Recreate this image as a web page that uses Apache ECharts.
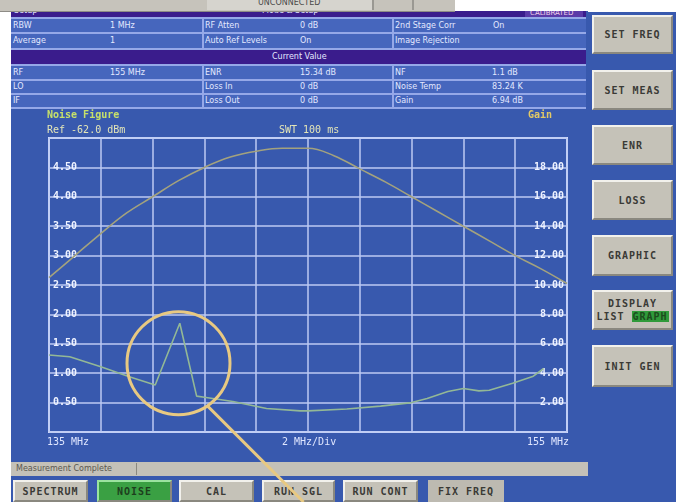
<!DOCTYPE html>
<html>
<head>
<meta charset="utf-8">
<script src="https://cdn.jsdelivr.net/npm/echarts@6/dist/echarts.min.js"></script>
<style>
  html,body{margin:0;padding:0;background:#ffffff;}
  #wrap{position:relative;width:680px;height:502px;overflow:hidden;background:#ffffff;font-family:"DejaVu Sans",sans-serif;}
  .abs{position:absolute;}
  .blue{background:#3859ae;}
  .row{position:absolute;left:11px;width:575px;background:#4666bd;}
  .sep{position:absolute;left:11px;width:575px;background:#95a8e8;}
  .purple{position:absolute;left:11px;width:575px;background:#3a1c8c;}
  .t{position:absolute;font-size:8px;color:#e4e9ff;white-space:nowrap;}
  .vsep{position:absolute;width:2px;background:#95a8e8;}
  .btn{position:absolute;background:#c5c2b8;border-top:2px solid #f2f1ec;border-left:2px solid #f2f1ec;border-bottom:2px solid #8a887f;border-right:2px solid #8a887f;box-sizing:border-box;
       font-family:"DejaVu Sans Mono",monospace;font-weight:bold;font-size:10px;color:#3a3a36;display:flex;align-items:center;justify-content:center;letter-spacing:1px;}
  #chart{position:absolute;left:0;top:0;width:680px;height:502px;pointer-events:none;}
</style>
</head>
<body>
<div id="wrap">
  <!-- main panels -->
  <div class="abs blue" style="left:11px;top:11px;width:577px;height:451px;"></div>
  <div class="abs blue" style="left:588px;top:12px;width:88px;height:490px;"></div>
  <div class="abs blue" style="left:11px;top:476px;width:577px;height:26px;"></div>

  <!-- table header (cut off at top) -->
  <div class="abs" style="left:11px;top:11px;width:575px;height:6px;overflow:hidden;background:#3a1c8c;">
    <div class="t" style="left:3px;top:-5px;">Setup</div>
    <div class="t" style="left:251px;top:-5px;">Mode &amp; Setup</div>
    <div class="abs" style="left:514px;top:0;width:58px;height:6px;background:#5a3aa8;"></div>
    <div class="t" style="left:519px;top:-2px;font-size:7px;color:#f0d0e8;">CALIBRATED</div>
  </div>

  <div class="sep" style="top:17px;height:2px;"></div>
  <div class="row" style="top:19px;height:13px;"></div>
  <div class="sep" style="top:32px;height:2px;"></div>
  <div class="row" style="top:34px;height:14px;"></div>
  <div class="sep" style="top:48px;height:2px;"></div>
  <div class="purple" style="top:50px;height:14px;"></div>
  <div class="sep" style="top:64px;height:2px;"></div>
  <div class="row" style="top:66px;height:13px;"></div>
  <div class="sep" style="top:79px;height:2px;"></div>
  <div class="row" style="top:81px;height:12px;"></div>
  <div class="sep" style="top:93px;height:2px;"></div>
  <div class="row" style="top:95px;height:12px;"></div>
  <div class="sep" style="top:107px;height:2px;"></div>
  <div class="vsep" style="left:202px;top:19px;height:29px;"></div>
  <div class="vsep" style="left:392px;top:19px;height:29px;"></div>
  <div class="vsep" style="left:202px;top:66px;height:41px;"></div>
  <div class="vsep" style="left:392px;top:66px;height:41px;"></div>

  <div class="t" style="left:13px;top:21px;">RBW</div>
  <div class="t" style="left:110px;top:21px;">1 MHz</div>
  <div class="t" style="left:205px;top:21px;">RF Atten</div>
  <div class="t" style="left:300px;top:21px;">0 dB</div>
  <div class="t" style="left:395px;top:21px;">2nd Stage Corr</div>
  <div class="t" style="left:493px;top:21px;">On</div>

  <div class="t" style="left:13px;top:36px;">Average</div>
  <div class="t" style="left:110px;top:36px;">1</div>
  <div class="t" style="left:205px;top:36px;">Auto Ref Levels</div>
  <div class="t" style="left:300px;top:36px;">On</div>
  <div class="t" style="left:395px;top:36px;">Image Rejection</div>

  <div class="t" style="left:272px;top:52px;">Current Value</div>

  <div class="t" style="left:13px;top:68px;">RF</div>
  <div class="t" style="left:110px;top:68px;">155 MHz</div>
  <div class="t" style="left:205px;top:68px;">ENR</div>
  <div class="t" style="left:300px;top:68px;">15.34 dB</div>
  <div class="t" style="left:395px;top:68px;">NF</div>
  <div class="t" style="left:492px;top:68px;">1.1 dB</div>

  <div class="t" style="left:13px;top:82px;">LO</div>
  <div class="t" style="left:205px;top:82px;">Loss In</div>
  <div class="t" style="left:300px;top:82px;">0 dB</div>
  <div class="t" style="left:395px;top:82px;">Noise Temp</div>
  <div class="t" style="left:492px;top:82px;">83.24 K</div>

  <div class="t" style="left:13px;top:96px;">IF</div>
  <div class="t" style="left:205px;top:96px;">Loss Out</div>
  <div class="t" style="left:300px;top:96px;">0 dB</div>
  <div class="t" style="left:395px;top:96px;">Gain</div>
  <div class="t" style="left:492px;top:96px;">6.94 dB</div>

  <!-- top gray bar -->
  <div class="abs" style="left:0;top:0;width:455px;height:11px;background:#c6c3bb;border-bottom:1px solid #8e8c86;"></div>
  <div class="abs" style="left:207px;top:0;width:165px;height:10px;background:#d6d4ce;"></div>
  <div class="abs" style="left:258px;top:-2px;font-size:8px;color:#4a4a4a;white-space:nowrap;">UNCONNECTED</div>
  <div class="abs" style="left:372px;top:0;width:2px;height:10px;background:#9a9892;"></div>
  <div class="abs" style="left:412px;top:0;width:2px;height:10px;background:#9a9892;"></div>

  <!-- status bar -->
  <div class="abs" style="left:11px;top:462px;width:577px;height:14px;background:#c4c1b8;"></div>
  <div class="abs" style="left:16px;top:464px;font-size:8px;color:#5a5850;white-space:nowrap;">Measurement Complete</div>
  <div class="abs" style="left:136px;top:463px;width:1px;height:12px;background:#8a8880;"></div>

  <!-- right buttons -->
  <div class="btn" style="left:592px;top:15px;width:81px;height:39px;">SET FREQ</div>
  <div class="btn" style="left:592px;top:70px;width:81px;height:40px;">SET MEAS</div>
  <div class="btn" style="left:592px;top:125px;width:81px;height:40px;">ENR</div>
  <div class="btn" style="left:592px;top:180px;width:81px;height:40px;">LOSS</div>
  <div class="btn" style="left:592px;top:235px;width:81px;height:41px;">GRAPHIC</div>
  <div class="btn" style="left:592px;top:290px;width:81px;height:40px;flex-direction:column;">
    <div style="margin-bottom:2px;">DISPLAY</div>
    <div style="display:flex;align-items:center;"><span>LIST&nbsp;</span><span style="background:#2f9a3a;color:#1d4a1d;padding:0 1px;">GRAPH</span></div>
  </div>
  <div class="btn" style="left:592px;top:345px;width:81px;height:42px;">INIT GEN</div>

  <!-- bottom buttons -->
  <div class="btn" style="left:13px;top:480px;width:75px;height:22px;">SPECTRUM</div>
  <div class="btn" style="left:97px;top:480px;width:75px;height:22px;background:#3aa043;color:#1d3f1d;border-top-color:#9be39f;border-left-color:#9be39f;">NOISE</div>
  <div class="btn" style="left:179px;top:480px;width:75px;height:22px;">CAL</div>
  <div class="btn" style="left:262px;top:480px;width:73px;height:22px;">RUN SGL</div>
  <div class="btn" style="left:343px;top:480px;width:75px;height:22px;">RUN CONT</div>
  <div class="btn" style="left:428px;top:480px;width:76px;height:22px;background:#bdbab1;border-color:#bdbab1;">FIX FREQ</div>

  <div id="chart"></div>
</div>
<script>
// ---------- data ----------
var nfFreq   = [135.0, 135.8, 137.0, 138.1, 139.1, 140.05, 140.7, 141.0, 142.1, 143.4, 144.7, 145.0, 146.5, 147.8, 149.0, 149.6, 150.4, 151.0, 151.6, 152.0, 152.9, 153.7, 154.1];
var nfValues = [1.31, 1.28, 1.11, 0.94, 0.80, 1.85, 0.61, 0.59, 0.52, 0.40, 0.36, 0.36, 0.39, 0.44, 0.50, 0.57, 0.69, 0.74, 0.70, 0.71, 0.83, 0.95, 1.08];
var gainFreq   = [135, 136, 137, 138, 139, 140, 141, 142, 143, 144, 145, 146, 147, 148, 149, 150, 151, 152, 153, 154, 155];
var gainValues = [10.5, 12.0, 13.5, 14.9, 16.0, 17.1, 18.0, 18.7, 19.1, 19.3, 19.3, 18.8, 17.9, 17.0, 16.0, 15.0, 14.0, 13.0, 12.0, 11.1, 10.1];
var nfTicks   = [0.5, 1.0, 1.5, 2.0, 2.5, 3.0, 3.5, 4.0, 4.5];
var gainTicks = [2, 4, 6, 8, 10, 12, 14, 16, 18];
var highlightPoint = [140.0, 1.17];

function pairs(xs, ys){ return xs.map(function(x,i){ return [x, ys[i]]; }); }

var mono = '"DejaVu Sans Mono", monospace';
var chart = echarts.init(document.getElementById('chart'), null, {renderer:'canvas'});
var gridColor = '#bccaf3';

chart.setOption({
  backgroundColor: 'transparent',
  animation: false,
  grid: {left:49, top:138, width:518, height:294, show:true, borderColor:'#d0dafb', borderWidth:2, backgroundColor:'transparent'},
  xAxis: {type:'value', min:135, max:155, interval:2,
    axisLine:{show:false}, axisTick:{show:false}, axisLabel:{show:false},
    splitLine:{show:true, lineStyle:{color:gridColor, width:1.5}}},
  yAxis: [
    {type:'value', min:0, max:5, interval:0.5, position:'left',
      axisLine:{show:false}, axisTick:{show:false},
      splitLine:{show:true, lineStyle:{color:gridColor, width:1.5}},
      axisLabel:{inside:true, margin:4, color:'#eef2ff', fontFamily:mono, fontWeight:'bold', fontSize:10,
        formatter:function(v){ return nfTicks.some(function(t){return Math.abs(t-v)<1e-6;}) ? v.toFixed(2) : ''; }}},
    {type:'value', min:0, max:20, interval:2, position:'right',
      axisLine:{show:false}, axisTick:{show:false}, splitLine:{show:false},
      axisLabel:{inside:true, margin:3, color:'#eef2ff', fontFamily:mono, fontWeight:'bold', fontSize:10,
        formatter:function(v){ return gainTicks.indexOf(v) >= 0 ? v.toFixed(2) : ''; }}}
  ],
  series: [
    {name:'Gain', type:'line', yAxisIndex:1, data:pairs(gainFreq, gainValues), smooth:0.4, showSymbol:false,
      lineStyle:{color:'#a3a27e', width:1.6}},
    {name:'Noise Figure', type:'line', yAxisIndex:0, data:pairs(nfFreq, nfValues), smooth:false, showSymbol:false,
      lineStyle:{color:'#93b896', width:1.6}}
  ]
});

var c = chart.convertToPixel({xAxisIndex:0, yAxisIndex:0}, highlightPoint);
var r = 51.5;
var ang = Math.atan2(43.5, 29.5);
var sx = c[0] + r*Math.cos(ang), sy = c[1] + r*Math.sin(ang);
var ex = sx + (502 - sy), ey = 502;

chart.setOption({
  graphic: [
    {type:'text', left:47, top:110, style:{text:'Noise Figure', fill:'#c6e06a', font:'bold 10px ' + mono}},
    {type:'text', left:528, top:110, style:{text:'Gain', fill:'#e2c866', font:'bold 10px ' + mono}},
    {type:'text', left:47, top:125, style:{text:'Ref -62.0 dBm', fill:'#e4e6b8', font:'10px ' + mono}},
    {type:'text', left:279, top:125, style:{text:'SWT 100 ms', fill:'#e4e6b8', font:'10px ' + mono}},
    {type:'text', left:47, top:437, style:{text:'135 MHz', fill:'#dfe6ff', font:'10px ' + mono}},
    {type:'text', left:282, top:437, style:{text:'2 MHz/Div', fill:'#dfe6ff', font:'10px ' + mono}},
    {type:'text', left:527, top:437, style:{text:'155 MHz', fill:'#dfe6ff', font:'10px ' + mono}},
    {type:'circle', shape:{cx:c[0], cy:c[1], r:r}, style:{fill:'transparent', stroke:'#e8c982', lineWidth:3}, z:100},
    {type:'line', shape:{x1:sx, y1:sy, x2:ex, y2:ey}, style:{stroke:'#e8c982', lineWidth:3}, z:100}
  ]
});
</script>
</body>
</html>
